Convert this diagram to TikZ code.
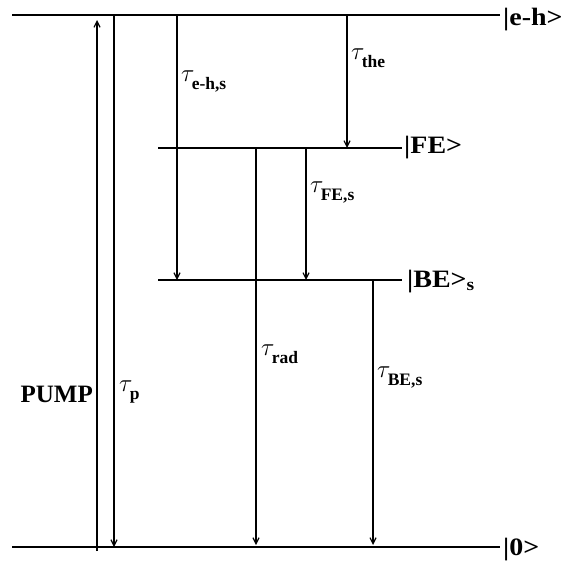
\documentclass[tikz,border=0pt]{standalone}
\usepackage{amsmath}
\usepackage{fontspec}
\setmainfont{Liberation Serif}
\usetikzlibrary{arrows.meta}

% tau avec indice gras abaisse
\newcommand{\tauind}[1]{$\tau_{\text{\raisebox{-5pt}{\bfseries #1}}}$}

\begin{document}
\begin{tikzpicture}[x=1pt,y=-1pt,
    niveau/.style={line width=1.5pt},
    trans/.style={line width=1.2pt,-{Straight Barb[length=6pt,width=6pt]}},
    etiq/.style={font=\fontsize{25}{30}\selectfont\bfseries,inner sep=0pt},
    ket/.style={etiq,anchor=base west,xscale=1.12},
    temps/.style={font=\fontsize{25}{30}\selectfont,inner sep=0pt,anchor=base west}]
    \useasboundingbox (0,0) rectangle (569,560);

    % Niveaux
    \coordinate (EHg) at (12,15);
    \coordinate (EHd) at (500,15);
    \coordinate (FEg) at (158,148);
    \coordinate (FEd) at (402,148);
    \coordinate (BEg) at (158,280);
    \coordinate (BEd) at (402,280);
    \coordinate (Zg) at (12,547);
    \coordinate (Zd) at (500,547);

    % Abscisses des transitions
    \coordinate (pump) at (97,0);
    \coordinate (p) at (114,0);
    \coordinate (ehs) at (177,0);
    \coordinate (rad) at (256,0);
    \coordinate (fes) at (306,0);
    \coordinate (the) at (347,0);
    \coordinate (bes) at (373,0);

    \draw[niveau] (EHg) -- (EHd);
    \draw[niveau] (FEg) -- (FEd);
    \draw[niveau] (BEg) -- (BEd);
    \draw[niveau] (Zg) -- (Zd);

    % Transitions
    \draw[trans] ([yshift=-4pt]pump |- Zg) -- ([yshift=-5pt]pump |- EHg);
    \draw[trans] (p |- EHg) -- (p |- Zg);
    \draw[trans] (ehs |- EHg) -- (ehs |- BEg);
    \draw[trans] (the |- EHg) -- (the |- FEg);
    \draw[trans] (fes |- FEg) -- (fes |- BEg);
    \draw[trans] (rad |- FEg) -- ([yshift=2pt]rad |- Zg);
    \draw[trans] (bes |- BEg) -- ([yshift=2pt]bes |- Zg);

    % Labels des niveaux
    \node[ket] (labEH) at (503,25) {|e-h>};
    \node[ket] (labFE) at (404,153) {|FE>};
    \node[ket] (labBE) at (407,287) {|BE>$_{\textbf{s}}$};
    \node[ket] (labZ) at (503,555) {|0>};

    % Labels des transitions
    \node[etiq,anchor=base east] (labpump) at (93,402) {PUMP};
    \node[temps] (labp) at (119,391) {\tauind{p}};
    \node[temps] (labehs) at (181,81) {\tauind{e-h,s}};
    \node[temps] (labthe) at (351,59) {\tauind{the}};
    \node[temps] (labfes) at (310,192) {\tauind{FE,s}};
    \node[temps] (labrad) at (261,355) {\tauind{rad}};
    \node[temps] (labbes) at (377,377) {\tauind{BE,s}};

\end{tikzpicture}
\end{document}
